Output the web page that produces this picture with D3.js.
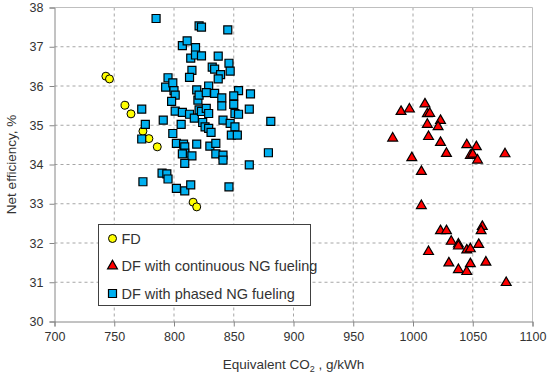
<!DOCTYPE html>
<html>
<head>
<meta charset="utf-8">
<script src="https://d3js.org/d3.v7.min.js"></script>
<style>
    body { margin: 0; background: white; }
    svg text { font-family: "Liberation Sans", Arial, sans-serif; fill: #333; }
    .grid line { stroke: #a6a6a6; stroke-dasharray: 3,3; }
</style>
</head>
<body>
<script>
// FD
var fdX = [743, 746, 759, 764, 774, 779, 786, 816, 819];
var fdY = [36.25, 36.18, 35.51, 35.29, 34.85, 34.66, 34.45, 33.04, 32.92];

// DF with continuous NG fueling
var dfcX = [990, 997, 1010, 1012, 1014, 1023, 1012, 1021, 983, 1013, 1023, 1045, 1053, 1028, 1048, 1050, 1054, 1077, 999, 1007, 1007,
            1058, 1057, 1023, 1028, 1032, 1038, 1038, 1055, 1045, 1048, 1013, 1030, 1048, 1061, 1038, 1045, 1078];
var dfcY = [35.35, 35.41, 35.54, 35.29, 35.30, 35.12, 35.02, 34.96, 34.67, 34.71, 34.56, 34.50, 34.45, 34.28, 34.23, 34.26, 34.11, 34.27, 34.17, 33.82, 32.95,
            32.42, 32.31, 32.31, 32.31, 32.04, 31.97, 31.92, 31.96, 31.82, 31.85, 31.78, 31.49, 31.47, 31.51, 31.32, 31.27, 30.99];

// DF with phased NG fueling
var dfpX = [785, 807, 811, 818, 814, 815, 813, 795, 793, 799, 800, 801, 798, 801, 807, 813, 817, 806, 791, 773, 776, 773, 799, 802,
            808, 809, 809, 807, 815, 809, 819, 820, 819, 818, 821, 774, 790, 794, 795, 802, 809, 814, 823, 845, 823, 837, 846, 847,
            832, 834, 839, 837, 829, 854, 864, 821, 827, 834, 840, 850, 840, 850, 863, 821, 823, 827, 829, 851, 854, 841, 847, 824,
            826, 829, 831, 851, 881, 848, 853, 830, 835, 835, 841, 841, 879, 863, 846];
var dfpY = [37.72, 37.03, 37.15, 36.98, 36.71, 36.40, 36.22, 36.21, 35.97, 36.08, 35.88, 35.77, 35.61, 35.36, 35.33, 35.28, 35.18, 35.02, 35.13, 35.41, 35.02, 34.65, 34.79, 34.54,
            34.52, 34.45, 34.29, 34.27, 34.22, 34.03, 34.52, 35.64, 35.90, 36.79, 37.53, 33.56, 33.78, 33.76, 33.63, 33.39, 33.33, 33.48, 37.50, 37.43, 36.77, 36.76, 36.58, 36.38,
            36.48, 36.43, 36.29, 36.18, 36.00, 35.88, 35.80, 35.77, 35.83, 35.81, 35.70, 35.75, 35.49, 35.53, 35.41, 35.39, 35.35, 35.43, 35.30, 35.30, 35.28, 35.13, 35.05, 35.07,
            34.96, 34.92, 34.82, 34.96, 35.10, 34.75, 34.75, 34.47, 34.54, 34.27, 34.24, 34.11, 34.30, 33.99, 33.43];

var xTicks = [700, 750, 800, 850, 900, 950, 1000, 1050, 1100];
var yTicks = [30, 31, 32, 33, 34, 35, 36, 37, 38];
var legendLabels = ["FD", "DF with continuous NG fueling", "DF with phased NG fueling"];

var width = 550, height = 379;
var plot = { left: 54.5, right: 532.5, top: 7.5, bottom: 321.5 };

var svg = d3.select("body").append("svg")
    .attr("width", width)
    .attr("height", height);

var x = d3.scaleLinear().domain([700, 1100]).range([plot.left, plot.right]);
var y = d3.scaleLinear().domain([30, 38]).range([plot.bottom, plot.top]);

// gridlines
var grid = svg.append("g").attr("class", "grid");
grid.selectAll(".gx")
    .data(xTicks.slice(1, -1))
    .enter().append("line")
    .attr("x1", function (d) { return x(d); })
    .attr("x2", function (d) { return x(d); })
    .attr("y1", plot.top)
    .attr("y2", plot.bottom);
grid.selectAll(".gy")
    .data(yTicks.slice(1, -1))
    .enter().append("line")
    .attr("x1", plot.left)
    .attr("x2", plot.right)
    .attr("y1", function (d) { return y(d); })
    .attr("y2", function (d) { return y(d); });

// plot border (top & right)
svg.append("path")
    .attr("d", "M" + plot.left + "," + plot.top + "H" + plot.right + "V" + plot.bottom)
    .attr("fill", "none")
    .attr("stroke", "#bfbfbf");

// axes
var xAxis = svg.append("g")
    .attr("transform", "translate(0," + plot.bottom + ")")
    .call(d3.axisBottom(x).tickValues(xTicks).tickFormat(d3.format("d")).tickSize(5).tickPadding(6));
var yAxis = svg.append("g")
    .attr("transform", "translate(" + plot.left + ",0)")
    .call(d3.axisLeft(y).tickValues(yTicks).tickFormat(d3.format("d")).tickSize(5).tickPadding(6));

[xAxis, yAxis].forEach(function (a) {
    a.select(".domain").attr("stroke", "#868686");
    a.selectAll(".tick line").attr("stroke", "#868686");
    a.selectAll(".tick text")
        .style("font-family", "'Liberation Sans', Arial, sans-serif")
        .style("font-size", "12.5px")
        .attr("fill", "#404040");
});

// series
var fd = fdX.map(function (d, i) { return [d, fdY[i]]; });
var dfc = dfcX.map(function (d, i) { return [d, dfcY[i]]; });
var dfp = dfpX.map(function (d, i) { return [d, dfpY[i]]; });

var triangle = d3.symbol().type(d3.symbolTriangle).size(42);
var square = d3.symbol().type(d3.symbolSquare).size(64);

svg.append("g").selectAll("circle")
    .data(fd)
    .enter().append("circle")
    .attr("cx", function (d) { return x(d[0]); })
    .attr("cy", function (d) { return y(d[1]); })
    .attr("r", 4)
    .attr("fill", "#ffff00")
    .attr("stroke", "#000")
    .attr("stroke-width", 1);

svg.append("g").selectAll("path")
    .data(dfc)
    .enter().append("path")
    .attr("d", triangle)
    .attr("transform", function (d) { return "translate(" + x(d[0]) + "," + y(d[1]) + ")"; })
    .attr("fill", "#ff0000")
    .attr("stroke", "#000")
    .attr("stroke-width", 1.2);

svg.append("g").selectAll("path")
    .data(dfp)
    .enter().append("path")
    .attr("d", square)
    .attr("transform", function (d) { return "translate(" + x(d[0]) + "," + y(d[1]) + ")"; })
    .attr("fill", "#00b0f0")
    .attr("stroke", "#000")
    .attr("stroke-width", 1.2);

// legend
var legend = svg.append("g").attr("transform", "translate(98.5,224.5)");
legend.append("rect")
    .attr("width", 212)
    .attr("height", 81)
    .attr("fill", "white")
    .attr("stroke", "#404040");

var legendRows = legend.selectAll(".row")
    .data(legendLabels)
    .enter().append("g")
    .attr("transform", function (d, i) { return "translate(14," + (14 + i * 27.5) + ")"; });

legendRows.each(function (d, i) {
    var g = d3.select(this);
    if (i === 0) {
        g.append("circle").attr("r", 4).attr("fill", "#ffff00").attr("stroke", "#000");
    } else if (i === 1) {
        g.append("path").attr("d", triangle).attr("fill", "#ff0000").attr("stroke", "#000").attr("stroke-width", 1.2);
    } else {
        g.append("path").attr("d", square).attr("fill", "#00b0f0").attr("stroke", "#000").attr("stroke-width", 1.2);
    }
    g.append("text")
        .attr("x", 9)
        .attr("dy", "0.36em")
        .style("font-size", "14.5px")
        .attr("fill", "#000")
        .text(d);
});

// axis titles
var xt = svg.append("text")
    .attr("x", (plot.left + plot.right) / 2)
    .attr("y", 369)
    .attr("text-anchor", "middle")
    .style("font-size", "13.5px")
    .attr("fill", "#000");
xt.append("tspan").text("Equivalent CO");
xt.append("tspan").attr("dy", 3).style("font-size", "9px").text("2");
xt.append("tspan").attr("dy", -3).text(" , g/kWh");

svg.append("text")
    .attr("transform", "translate(16," + ((plot.top + plot.bottom) / 2) + ") rotate(-90)")
    .attr("text-anchor", "middle")
    .style("font-size", "13.5px")
    .attr("fill", "#000")
    .text("Net efficiency, %");
</script>
</body>
</html>
